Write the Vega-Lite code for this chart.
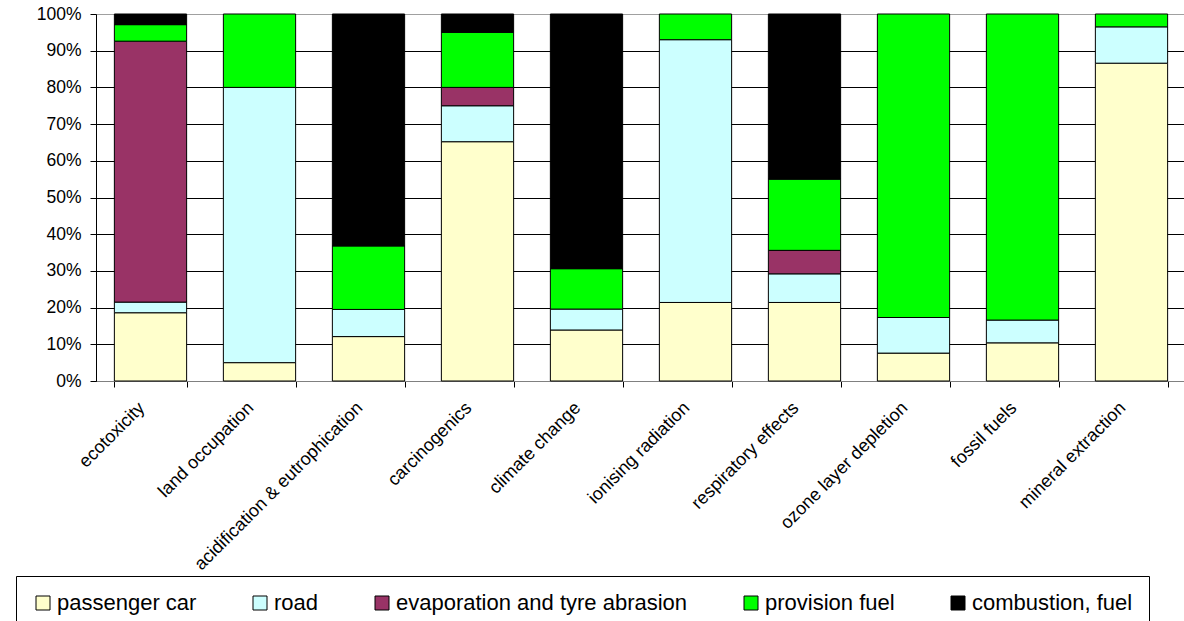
{
  "$schema": "https://vega.github.io/schema/vega-lite/v6.json",
  "autosize": "none",
  "padding": {"left": 96, "top": 14, "right": 0, "bottom": 240},
  "width": 1090,
  "height": 367,
  "background": "white",
  "data": {
    "values": [
      {"category": "ecotoxicity", "part": "passenger car", "ord": 1, "value": 18.6},
      {"category": "ecotoxicity", "part": "road", "ord": 2, "value": 2.9},
      {"category": "ecotoxicity", "part": "evaporation and tyre abrasion", "ord": 3, "value": 71.1},
      {"category": "ecotoxicity", "part": "provision fuel", "ord": 4, "value": 4.5},
      {"category": "ecotoxicity", "part": "combustion, fuel", "ord": 5, "value": 2.9},
      {"category": "land occupation", "part": "passenger car", "ord": 1, "value": 5.0},
      {"category": "land occupation", "part": "road", "ord": 2, "value": 75.0},
      {"category": "land occupation", "part": "provision fuel", "ord": 4, "value": 20.0},
      {"category": "acidification & eutrophication", "part": "passenger car", "ord": 1, "value": 12.1},
      {"category": "acidification & eutrophication", "part": "road", "ord": 2, "value": 7.4},
      {"category": "acidification & eutrophication", "part": "provision fuel", "ord": 4, "value": 17.3},
      {"category": "acidification & eutrophication", "part": "combustion, fuel", "ord": 5, "value": 63.2},
      {"category": "carcinogenics", "part": "passenger car", "ord": 1, "value": 65.2},
      {"category": "carcinogenics", "part": "road", "ord": 2, "value": 9.8},
      {"category": "carcinogenics", "part": "evaporation and tyre abrasion", "ord": 3, "value": 5.0},
      {"category": "carcinogenics", "part": "provision fuel", "ord": 4, "value": 15.0},
      {"category": "carcinogenics", "part": "combustion, fuel", "ord": 5, "value": 5.0},
      {"category": "climate change", "part": "passenger car", "ord": 1, "value": 13.9},
      {"category": "climate change", "part": "road", "ord": 2, "value": 5.7},
      {"category": "climate change", "part": "provision fuel", "ord": 4, "value": 11.0},
      {"category": "climate change", "part": "combustion, fuel", "ord": 5, "value": 69.4},
      {"category": "ionising radiation", "part": "passenger car", "ord": 1, "value": 21.4},
      {"category": "ionising radiation", "part": "road", "ord": 2, "value": 71.6},
      {"category": "ionising radiation", "part": "provision fuel", "ord": 4, "value": 7.0},
      {"category": "respiratory effects", "part": "passenger car", "ord": 1, "value": 21.4},
      {"category": "respiratory effects", "part": "road", "ord": 2, "value": 7.8},
      {"category": "respiratory effects", "part": "evaporation and tyre abrasion", "ord": 3, "value": 6.4},
      {"category": "respiratory effects", "part": "provision fuel", "ord": 4, "value": 19.4},
      {"category": "respiratory effects", "part": "combustion, fuel", "ord": 5, "value": 45.0},
      {"category": "ozone layer depletion", "part": "passenger car", "ord": 1, "value": 7.6},
      {"category": "ozone layer depletion", "part": "road", "ord": 2, "value": 9.7},
      {"category": "ozone layer depletion", "part": "provision fuel", "ord": 4, "value": 82.7},
      {"category": "fossil fuels", "part": "passenger car", "ord": 1, "value": 10.4},
      {"category": "fossil fuels", "part": "road", "ord": 2, "value": 6.2},
      {"category": "fossil fuels", "part": "provision fuel", "ord": 4, "value": 83.4},
      {"category": "mineral extraction", "part": "passenger car", "ord": 1, "value": 86.6},
      {"category": "mineral extraction", "part": "road", "ord": 2, "value": 9.9},
      {"category": "mineral extraction", "part": "provision fuel", "ord": 4, "value": 3.5}
    ]
  },
  "mark": {"type": "bar", "stroke": "black", "strokeWidth": 1, "opacity": 1},
  "encoding": {
    "x": {
      "field": "category",
      "type": "nominal",
      "sort": null,
      "scale": {"paddingInner": 0.337, "paddingOuter": 0.1685},
      "axis": {
        "title": null,
        "labelAngle": -45,
        "labelAlign": "right",
        "labelBaseline": "middle",
        "labelPadding": 18,
        "labelOffset": -9,
        "labelFontSize": 18,
        "labelFont": "Liberation Sans",
        "labelColor": "black",
        "labelLimit": 400,
        "labelOverlap": false,
        "tickBand": "extent",
        "tickSize": 6,
        "tickColor": "black",
        "domainColor": "#808080",
        "grid": false
      }
    },
    "y": {
      "field": "value",
      "type": "quantitative",
      "stack": "zero",
      "scale": {"domain": [0, 100], "nice": false},
      "axis": {
        "title": null,
        "values": [0, 10, 20, 30, 40, 50, 60, 70, 80, 90, 100],
        "labelExpr": "datum.value + '%'",
        "labelFontSize": 17.5,
        "labelFont": "Liberation Sans",
        "labelColor": "black",
        "labelPadding": 9,
        "tickSize": 6,
        "tickColor": "black",
        "domainColor": "black",
        "grid": true,
        "gridColor": {"condition": {"test": "datum.value === 100", "value": "#a0a0a0"}, "value": "black"},
        "gridOpacity": 1,
        "gridWidth": 1
      }
    },
    "color": {
      "field": "part",
      "type": "nominal",
      "scale": {
        "domain": ["passenger car", "road", "evaporation and tyre abrasion", "provision fuel", "combustion, fuel"],
        "range": ["#FFFFCC", "#CCFFFF", "#993366", "#00FF00", "#000000"]
      },
      "legend": {
        "title": null,
        "orient": "none",
        "legendX": -80,
        "legendY": 562,
        "direction": "horizontal",
        "columns": 5,
        "columnPadding": 52,
        "padding": 16,
        "strokeColor": "black",
        "fillColor": "white",
        "symbolType": "square",
        "symbolSize": 196,
        "symbolStrokeColor": "black",
        "symbolStrokeWidth": 1,
        "symbolOpacity": 1,
        "labelFontSize": 22,
        "labelFont": "Liberation Sans",
        "labelColor": "black",
        "labelOffset": 3,
        "labelLimit": 500
      }
    },
    "order": {"field": "ord", "type": "quantitative", "sort": "ascending"}
  },
  "config": {
    "view": {"stroke": "#a0a0a0"}
  }
}
